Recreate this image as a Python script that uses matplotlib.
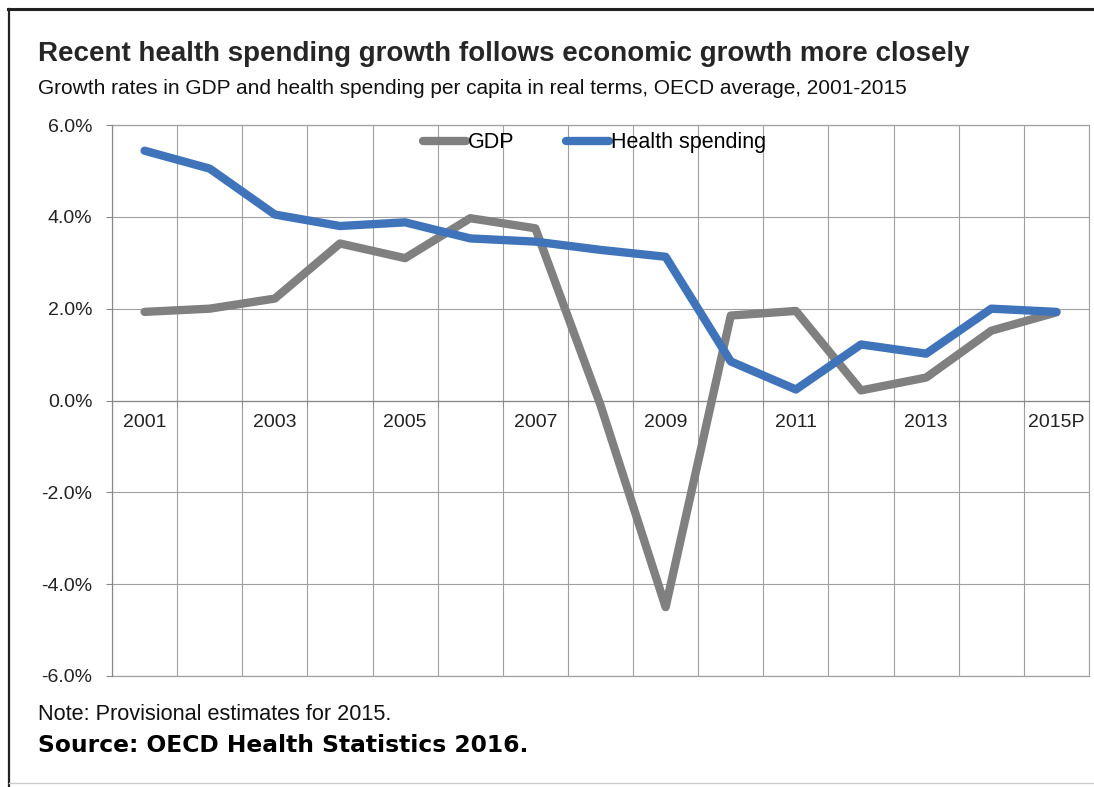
import matplotlib
matplotlib.use('Agg')
import matplotlib.pyplot as plt
import numpy as np
from matplotlib.ticker import FixedLocator, FuncFormatter
from matplotlib.lines import Line2D

years = ['2001', '2002', '2003', '2004', '2005', '2006', '2007', '2008',
         '2009', '2010', '2011', '2012', '2013', '2014', '2015P']
gdp = [1.93, 2.0, 2.22, 3.42, 3.1, 3.97, 3.75, -0.1, -4.5,
       1.85, 1.95, 0.22, 0.5, 1.52, 1.92]
health = [5.44, 5.05, 4.05, 3.8, 3.88, 3.53, 3.46, 3.28, 3.13,
          0.85, 0.24, 1.22, 1.02, 2.0, 1.93]
y_ticks = [-6, -4, -2, 0, 2, 4, 6]

title = 'Recent health spending growth follows economic growth more closely'
subtitle = ('Growth rates in GDP and health spending per capita in real terms, '
            'OECD average, 2001-2015')
note = 'Note: Provisional estimates for 2015.'
source = 'Source: OECD Health Statistics 2016.'

W, H = 1094, 787
fig = plt.figure(figsize=(W / 100, H / 100), dpi=100)
fig.patch.set_facecolor('white')


def fx(px):
    return px / W


def fy(py):
    return 1 - py / H


FONT = 'Liberation Sans'

ax = fig.add_axes([fx(112), fy(676), fx(1089) - fx(112), fy(125) - fy(676)])
x = np.arange(len(years)) + 0.5

GRAY = '#808080'
BLUE = '#3f74ba'
ax.plot(x, gdp, color=GRAY, lw=6, solid_joinstyle='round',
        solid_capstyle='round', label='GDP', zorder=3)
ax.plot(x, health, color=BLUE, lw=6, solid_joinstyle='round',
        solid_capstyle='round', label='Health spending', zorder=4)

ax.set_xlim(0, len(years))
ax.set_ylim(-6, 6)

# grid
grid_c = '#a0a0a0'
ax.xaxis.set_minor_locator(FixedLocator(np.arange(0, len(years) + 1)))
ax.xaxis.set_major_locator(FixedLocator(x[::2]))
ax.set_xticklabels(years[::2])
ax.yaxis.set_major_locator(FixedLocator(y_ticks))
ax.yaxis.set_major_formatter(FuncFormatter(
    lambda v, p: ('%.1f%%' % v).replace('-0.0', '0.0')))
ax.grid(True, which='minor', axis='x', color=grid_c, lw=0.8)
ax.grid(True, which='major', axis='y', color=grid_c, lw=0.8)
ax.axhline(y_ticks[0], color=grid_c, lw=0.9, clip_on=False, zorder=1)
ax.axhline(y_ticks[-1], color=grid_c, lw=0.9, clip_on=False, zorder=1)
ax.set_axisbelow(True)

ax.spines['top'].set_visible(False)
ax.spines['right'].set_color(grid_c)
ax.spines['right'].set_linewidth(0.8)
ax.spines['bottom'].set_position(('data', 0))
ax.spines['bottom'].set_color('#888888')
ax.spines['left'].set_color('#888888')
ax.spines['bottom'].set_linewidth(0.9)
ax.spines['left'].set_linewidth(0.9)

ax.tick_params(axis='x', which='major', length=0, pad=10, labelsize=14,
               labelcolor='#222222')
ax.tick_params(axis='x', which='minor', length=4, color='#888888',
               direction='out')
ax.tick_params(axis='y', which='major', length=4, color='#888888',
               pad=10, labelsize=14, labelcolor='#222222')
for lbl in ax.get_xticklabels() + ax.get_yticklabels():
    lbl.set_fontfamily(FONT)

leg = ax.legend(loc='center', bbox_to_anchor=(0.494, 0.968), ncol=2,
                frameon=False, handlelength=2.0, handletextpad=0.1,
                columnspacing=2.4, prop={'family': FONT, 'size': 15.5})

# titles
fig.text(fx(38), fy(54), title, fontsize=20, fontweight='bold',
         family=FONT, color='#262626', va='center', ha='left')
fig.text(fx(38), fy(88), subtitle, fontsize=15, family=FONT,
         color='#111111', va='center', ha='left')
fig.text(fx(38), fy(715), note, fontsize=15.6, family=FONT,
         color='#111111', va='center', ha='left')
fig.text(fx(38), fy(746), source, fontsize=16.8, fontweight='bold',
         family='DejaVu Sans', color='#000000', va='center', ha='left')

# outer frame
fig.add_artist(Line2D([fx(8), 1.0], [fy(9), fy(9)], color='#222222',
                      lw=2.2, transform=fig.transFigure))
fig.add_artist(Line2D([fx(9), fx(9)], [fy(9), 0.0], color='#222222',
                      lw=1.6, transform=fig.transFigure))
fig.add_artist(Line2D([fx(9), 1.0], [fy(783), fy(783)], color='#cccccc',
                      lw=1.0, transform=fig.transFigure))

fig.savefig('out.png', dpi=100, facecolor='white')
